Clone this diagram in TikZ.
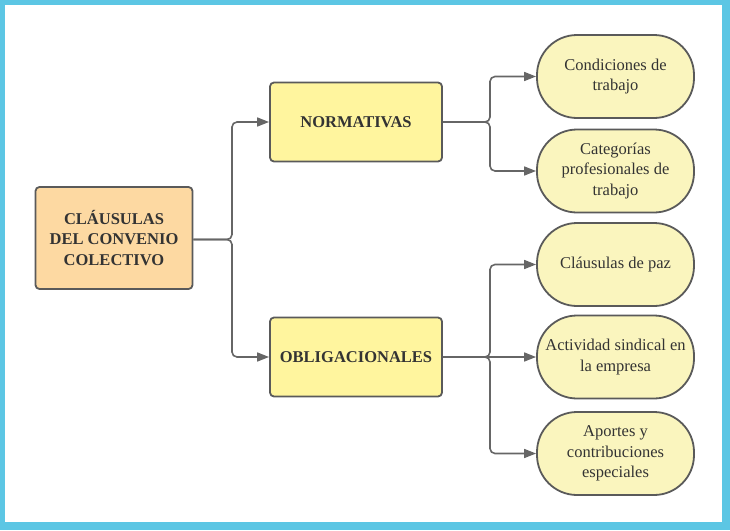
\documentclass[tikz,border=0pt]{standalone}
\usepackage{fontspec}
\setmainfont{Liberation Serif}
\usetikzlibrary{arrows.meta}
\definecolor{framecol}{HTML}{5CC6E4}
\definecolor{peach}{HTML}{FDD9A2}
\definecolor{yel}{HTML}{FFF59E}
\definecolor{paleyel}{HTML}{FAF5BE}
\definecolor{edgecol}{HTML}{5A5A5A}
\definecolor{linecol}{HTML}{666666}
\definecolor{txt}{HTML}{333333}
\begin{document}
\begin{tikzpicture}[x=1pt,y=-1pt,
  basebox/.style={draw=edgecol, line width=1.8pt, text=txt, align=center, inner sep=0pt,
    font=\fontsize{16.5}{20.5}\selectfont},
  rootbox/.style={basebox, fill=peach, rounded corners=4pt, minimum width=157pt, minimum height=102pt, font=\fontsize{16.5}{20.5}\selectfont\bfseries},
  midbox/.style={basebox, fill=yel, rounded corners=4pt, minimum width=172pt, minimum height=79pt, font=\fontsize{16.5}{20.5}\selectfont\bfseries},
  leafbox/.style={basebox, fill=paleyel, rounded corners=40pt, minimum width=157pt, minimum height=83pt},
  conn/.style={draw=linecol, line width=1.6pt, rounded corners=5pt, -{Triangle[length=12pt,width=9pt]}}
]
\fill[framecol] (0,0) rectangle (730,530);
\fill[white] (5,5) rectangle (722,522);
\useasboundingbox (0,0) rectangle (730,530);

\node[rootbox] (root) at (114,238) {CLÁUSULAS\\DEL CONVENIO\\COLECTIVO};
\node[midbox] (norm) at (356,122) {NORMATIVAS};
\node[midbox] (oblig) at (356,357) {OBLIGACIONALES};

\node[leafbox] (c1) at (615.5,76.5) {Condiciones de\\trabajo};
\node[leafbox] (c2) at (615.5,171) {Categorías\\profesionales de\\trabajo};
\node[leafbox] (o1) at (615.5,264.5) {Cláusulas de paz};
\node[leafbox] (o2) at (615.5,357) {Actividad sindical en\\la empresa};
\node[leafbox] (o3) at (615.5,453.5) {Aportes y\\contribuciones\\especiales};

\coordinate (jr) at (232,239.5);
\coordinate (jn) at (490,122);
\coordinate (jo) at (490,357);

\draw[conn] (root.east |- jr) -- (jr) |- (norm.west);
\draw[conn] (root.east |- jr) -- (jr) |- (oblig.west);

\draw[conn] (norm.east) -- (jn) |- (c1.west);
\draw[conn] (norm.east) -- (jn) |- (c2.west);

\draw[conn] (oblig.east) -- (jo) |- (o1.west);
\draw[conn] (oblig.east) -- (o2.west);
\draw[conn] (oblig.east) -- (jo) |- (o3.west);
\end{tikzpicture}
\end{document}
